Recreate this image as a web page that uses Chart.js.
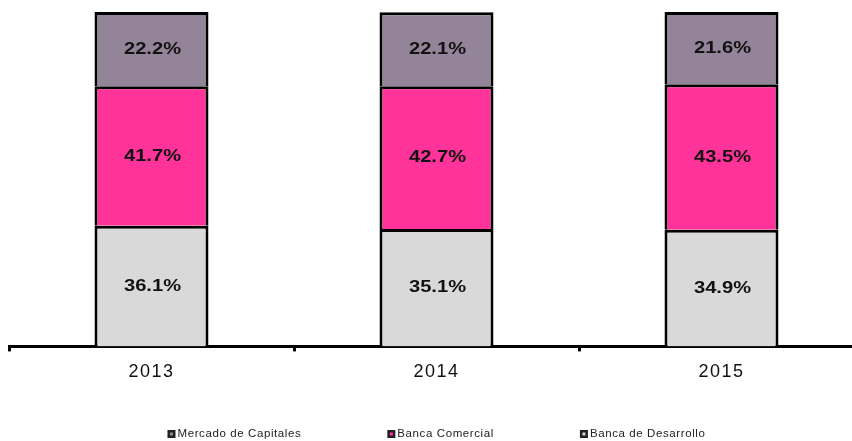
<!DOCTYPE html>
<html>
<head>
<meta charset="utf-8">
<script src="https://cdn.jsdelivr.net/npm/chart.js@4"></script>
<style>
  html, body { margin: 0; padding: 0; background: #fff; overflow: hidden; }
  #wrap { width: 866px; height: 441px; }
</style>
</head>
<body>
<div id="wrap"><canvas id="myChart" width="866" height="441"></canvas></div>
<script>
// datos del grafico
var anios = ["2013", "2014", "2015"];
var bancaDesarrollo = [36.1, 35.1, 34.9];
var bancaComercial = [41.7, 42.7, 43.5];
var mercadoCapitales = [22.2, 22.1, 21.6];

// letra un poco mas ancha en los años
var espaciadoPlugin = {
    id: "espaciado",
    beforeDraw: function (chart) {
        chart.ctx.letterSpacing = "1.5px";
    }
};

// etiquetas con el % dentro de cada barra (estiradas a lo ancho)
var etiquetasPlugin = {
    id: "etiquetas",
    afterDatasetsDraw: function (chart) {
        var ctx = chart.ctx;
        ctx.save();
        ctx.font = "bold 16.5px Arial, 'Liberation Sans'";
        ctx.letterSpacing = "0px";
        ctx.fillStyle = "#111";
        ctx.textAlign = "center";
        ctx.textBaseline = "middle";
        var sx = 1.22;
        chart.data.datasets.forEach(function (ds, i) {
            var meta = chart.getDatasetMeta(i);
            meta.data.forEach(function (bar, j) {
                var p = bar.getCenterPoint();
                ctx.save();
                ctx.translate(p.x + 1, p.y);
                ctx.scale(sx, 1);
                ctx.fillText(ds.data[j].toFixed(1) + "%", 0, 0);
                ctx.restore();
            });
        });
        ctx.restore();
    }
};

// leyenda abajo, en el orden Mercado, Comercial, Desarrollo
var leyendaPlugin = {
    id: "leyenda",
    afterDraw: function (chart) {
        var ctx = chart.ctx;
        var items = chart.data.datasets.slice().reverse();
        var gap = 86, box = 8;
        ctx.save();
        ctx.font = "11.5px Arial, 'Liberation Sans'";
        ctx.letterSpacing = "0.6px";
        var total = 0;
        items.forEach(function (ds, i) {
            total += box + 2 + ctx.measureText(ds.label).width;
            if (i > 0) total += gap;
        });
        var area = chart.chartArea;
        var x = (area.left + area.right) / 2 - total / 2;
        var y = 434;
        ctx.textBaseline = "middle";
        items.forEach(function (ds) {
            ctx.fillStyle = "#222";
            ctx.fillRect(x, y - box / 2, box, box);
            ctx.fillStyle = ds.backgroundColor;
            ctx.fillRect(x + 2.5, y - box / 2 + 2.5, box - 5, box - 5);
            ctx.fillStyle = "#222";
            ctx.fillText(ds.label, x + box + 2, y);
            x += box + 2 + ctx.measureText(ds.label).width + gap;
        });
        ctx.restore();
    }
};

var ctx = document.getElementById("myChart").getContext("2d");

var myChart = new Chart(ctx, {
    type: "bar",
    data: {
        labels: anios,
        datasets: [
            { label: "Banca de Desarrollo", data: bancaDesarrollo, backgroundColor: "#D9D9D9", borderSkipped: "bottom" },
            { label: "Banca Comercial", data: bancaComercial, backgroundColor: "#FF3399", borderSkipped: "bottom" },
            { label: "Mercado de Capitales", data: mercadoCapitales, backgroundColor: "#94849A", borderSkipped: "bottom" }
        ]
    },
    options: {
        responsive: false,
        animation: false,
        datasets: {
            bar: {
                borderColor: "#000",
                borderWidth: 3,
                barPercentage: 0.4,
                categoryPercentage: 1
            }
        },
        layout: {
            padding: { left: 9, right: 2, top: 12, bottom: 48 }
        },
        scales: {
            x: {
                stacked: true,
                offset: true,
                border: { display: true, color: "#000", width: 3 },
                grid: {
                    offset: true,
                    drawOnChartArea: false,
                    drawTicks: true,
                    tickLength: 5,
                    tickWidth: 3,
                    tickColor: "#000"
                },
                ticks: {
                    color: "#111",
                    padding: 10,
                    font: { family: "Arial, 'Liberation Sans'", size: 18 }
                }
            },
            y: {
                stacked: true,
                display: false,
                min: 0,
                max: 100
            }
        },
        plugins: {
            legend: { display: false },
            tooltip: { enabled: false }
        }
    },
    plugins: [espaciadoPlugin, etiquetasPlugin, leyendaPlugin]
});
</script>
</body>
</html>
